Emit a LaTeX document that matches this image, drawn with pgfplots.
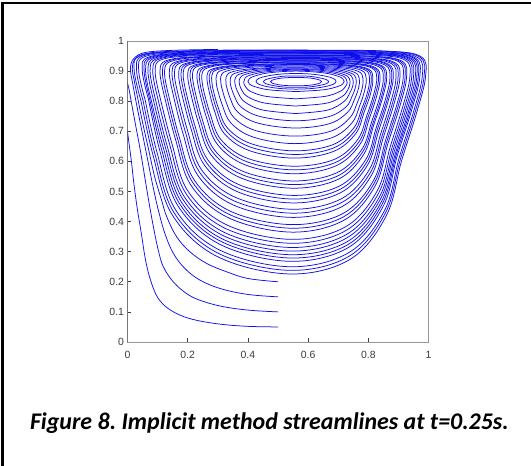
\documentclass[border=0pt]{standalone}
\usepackage{fontspec}
\usepackage{pgfplots}
\pgfplotsset{compat=1.18}
\setmainfont{Liberation Sans}
\newfontfamily\capfont{Carlito}
\definecolor{ticklab}{RGB}{60,60,60}
\definecolor{axdark}{RGB}{60,60,60}
\definecolor{axlight}{RGB}{150,150,150}
\definecolor{sblue}{RGB}{15,15,235}
\pgfplotsset{sl/.style={sblue, line width=0.75bp, smooth, tension=0.6, mark=none}}
\begin{document}
\begin{tikzpicture}
\useasboundingbox (0,0) rectangle (531bp,466bp);
\fill[white] (0,0) rectangle (531bp,466bp);
\draw[line width=2.2bp] (2.5bp,0) -- (2.5bp,463.2bp) -- (531bp,463.2bp);
\begin{axis}[
  at={(127.5bp,124bp)}, anchor=south west,
  scale only axis, width=301bp, height=301bp,
  xmin=0, xmax=1, ymin=0, ymax=1,
  xtick={0,0.2,0.4,0.6,0.8,1},
  ytick={0,0.1,0.2,0.3,0.4,0.5,0.6,0.7,0.8,0.9,1},
  tick pos=left,
  tick align=inside,
  major tick length=3.5bp,
  tick style={axdark, line width=0.6bp},
  axis line style={axlight, line width=0.8bp},
  ticklabel style={font=\fontsize{10.5}{12}\selectfont, text=ticklab},
  /pgf/number format/assume math mode=true,
  xticklabel style={yshift=-6bp},
]
% closed streamlines (outer to inner)
\addplot[sl, smooth] coordinates {(0.045,0.800) (0.022,0.905) (0.045,0.952) (0.200,0.966) (0.550,0.969) (0.850,0.967) (0.975,0.948) (0.990,0.880) (0.960,0.760) (0.910,0.600) (0.860,0.420) (0.740,0.275) (0.540,0.226) (0.300,0.283) (0.150,0.420) (0.085,0.620) (0.045,0.800)};
\addplot[sl, smooth] coordinates {(0.052,0.801) (0.030,0.904) (0.053,0.951) (0.205,0.965) (0.550,0.968) (0.846,0.966) (0.970,0.947) (0.985,0.880) (0.955,0.762) (0.906,0.605) (0.857,0.429) (0.738,0.286) (0.540,0.238) (0.303,0.294) (0.155,0.429) (0.091,0.625) (0.052,0.801)};
\addplot[sl, smooth] coordinates {(0.059,0.803) (0.037,0.904) (0.060,0.949) (0.211,0.963) (0.550,0.966) (0.842,0.964) (0.964,0.945) (0.979,0.880) (0.950,0.764) (0.902,0.610) (0.854,0.437) (0.737,0.298) (0.541,0.250) (0.307,0.305) (0.161,0.437) (0.098,0.630) (0.059,0.803)};
\addplot[sl, smooth] coordinates {(0.070,0.805) (0.049,0.903) (0.071,0.947) (0.219,0.961) (0.551,0.964) (0.836,0.962) (0.956,0.944) (0.971,0.880) (0.943,0.767) (0.896,0.618) (0.849,0.450) (0.734,0.314) (0.541,0.268) (0.312,0.322) (0.169,0.450) (0.107,0.637) (0.070,0.805)};
\addplot[sl, smooth] coordinates {(0.074,0.806) (0.055,0.903) (0.078,0.946) (0.224,0.960) (0.551,0.963) (0.833,0.961) (0.951,0.943) (0.966,0.880) (0.939,0.769) (0.893,0.623) (0.846,0.458) (0.733,0.324) (0.542,0.279) (0.315,0.332) (0.174,0.458) (0.113,0.641) (0.074,0.806)};
\addplot[sl, smooth] coordinates {(0.078,0.807) (0.060,0.902) (0.085,0.945) (0.228,0.958) (0.551,0.962) (0.829,0.959) (0.946,0.941) (0.961,0.880) (0.935,0.771) (0.890,0.627) (0.843,0.465) (0.731,0.334) (0.542,0.290) (0.318,0.341) (0.179,0.465) (0.119,0.645) (0.078,0.807)};
\addplot[sl, smooth] coordinates {(0.085,0.809) (0.068,0.902) (0.093,0.944) (0.234,0.957) (0.551,0.961) (0.825,0.958) (0.941,0.940) (0.956,0.880) (0.930,0.773) (0.886,0.632) (0.840,0.474) (0.729,0.346) (0.543,0.302) (0.321,0.352) (0.184,0.474) (0.125,0.650) (0.085,0.809)};
\addplot[sl, smooth] coordinates {(0.092,0.810) (0.075,0.901) (0.100,0.942) (0.239,0.956) (0.551,0.959) (0.821,0.956) (0.935,0.939) (0.950,0.879) (0.925,0.775) (0.882,0.637) (0.837,0.482) (0.727,0.357) (0.543,0.314) (0.324,0.363) (0.189,0.482) (0.131,0.654) (0.092,0.810)};
\addplot[sl, smooth] coordinates {(0.100,0.812) (0.084,0.900) (0.108,0.941) (0.245,0.954) (0.552,0.958) (0.817,0.955) (0.929,0.938) (0.944,0.879) (0.920,0.778) (0.878,0.643) (0.833,0.492) (0.725,0.370) (0.544,0.328) (0.328,0.376) (0.195,0.492) (0.139,0.660) (0.100,0.812)};
\addplot[sl, smooth] coordinates {(0.108,0.813) (0.092,0.899) (0.116,0.939) (0.251,0.952) (0.552,0.956) (0.812,0.953) (0.923,0.936) (0.938,0.879) (0.914,0.780) (0.873,0.649) (0.829,0.501) (0.723,0.382) (0.544,0.341) (0.332,0.388) (0.201,0.501) (0.146,0.665) (0.108,0.813)};
\addplot[sl, smooth] coordinates {(0.123,0.815) (0.108,0.898) (0.132,0.936) (0.262,0.949) (0.552,0.953) (0.805,0.950) (0.912,0.933) (0.927,0.879) (0.905,0.784) (0.865,0.659) (0.823,0.519) (0.720,0.405) (0.545,0.365) (0.339,0.411) (0.212,0.519) (0.159,0.675) (0.123,0.815)};
\addplot[sl, smooth] coordinates {(0.130,0.817) (0.116,0.898) (0.140,0.935) (0.267,0.948) (0.553,0.952) (0.801,0.949) (0.907,0.932) (0.922,0.879) (0.900,0.787) (0.861,0.664) (0.820,0.528) (0.718,0.416) (0.545,0.378) (0.342,0.422) (0.218,0.528) (0.165,0.680) (0.130,0.817)};
\addplot[sl, smooth] coordinates {(0.137,0.818) (0.123,0.897) (0.147,0.933) (0.272,0.947) (0.553,0.950) (0.797,0.947) (0.901,0.931) (0.916,0.879) (0.895,0.789) (0.857,0.669) (0.817,0.536) (0.716,0.427) (0.545,0.390) (0.345,0.433) (0.223,0.536) (0.171,0.684) (0.137,0.818)};
\addplot[sl, smooth] coordinates {(0.152,0.821) (0.139,0.896) (0.162,0.931) (0.283,0.944) (0.553,0.948) (0.789,0.944) (0.889,0.928) (0.905,0.879) (0.886,0.793) (0.850,0.680) (0.810,0.553) (0.713,0.450) (0.546,0.414) (0.352,0.455) (0.234,0.553) (0.184,0.694) (0.152,0.821)};
\addplot[sl, smooth] coordinates {(0.160,0.822) (0.148,0.895) (0.171,0.930) (0.289,0.942) (0.554,0.947) (0.785,0.943) (0.883,0.927) (0.899,0.879) (0.881,0.796) (0.846,0.686) (0.807,0.563) (0.711,0.463) (0.547,0.428) (0.356,0.468) (0.240,0.563) (0.192,0.699) (0.160,0.822)};
\addplot[sl, smooth] coordinates {(0.168,0.823) (0.156,0.894) (0.179,0.928) (0.295,0.940) (0.554,0.945) (0.780,0.941) (0.877,0.925) (0.892,0.878) (0.875,0.798) (0.841,0.691) (0.803,0.572) (0.709,0.475) (0.547,0.441) (0.360,0.480) (0.246,0.572) (0.199,0.704) (0.168,0.823)};
\addplot[sl, smooth] coordinates {(0.180,0.826) (0.170,0.893) (0.192,0.925) (0.305,0.938) (0.554,0.942) (0.773,0.939) (0.867,0.923) (0.883,0.878) (0.866,0.801) (0.834,0.700) (0.797,0.587) (0.706,0.495) (0.548,0.462) (0.366,0.499) (0.256,0.587) (0.210,0.712) (0.180,0.826)};
\addplot[sl, smooth] coordinates {(0.188,0.827) (0.178,0.893) (0.200,0.924) (0.310,0.937) (0.554,0.941) (0.769,0.938) (0.862,0.922) (0.878,0.878) (0.862,0.804) (0.830,0.706) (0.794,0.596) (0.704,0.506) (0.549,0.475) (0.369,0.511) (0.262,0.596) (0.217,0.717) (0.188,0.827)};
\addplot[sl, smooth] coordinates {(0.195,0.828) (0.185,0.892) (0.207,0.922) (0.315,0.935) (0.554,0.939) (0.765,0.936) (0.856,0.920) (0.872,0.878) (0.857,0.806) (0.826,0.711) (0.791,0.605) (0.702,0.517) (0.549,0.487) (0.372,0.522) (0.267,0.605) (0.223,0.722) (0.195,0.828)};
\addplot[sl, smooth] coordinates {(0.209,0.831) (0.200,0.891) (0.222,0.920) (0.326,0.932) (0.555,0.937) (0.757,0.933) (0.845,0.918) (0.861,0.878) (0.847,0.810) (0.818,0.721) (0.784,0.622) (0.699,0.540) (0.549,0.511) (0.379,0.544) (0.277,0.622) (0.235,0.731) (0.209,0.831)};
\addplot[sl, smooth] coordinates {(0.217,0.833) (0.208,0.891) (0.230,0.919) (0.332,0.931) (0.555,0.936) (0.753,0.932) (0.840,0.917) (0.856,0.878) (0.843,0.812) (0.815,0.726) (0.781,0.631) (0.697,0.551) (0.550,0.523) (0.383,0.555) (0.283,0.631) (0.242,0.736) (0.217,0.833)};
\addplot[sl, smooth] coordinates {(0.224,0.834) (0.216,0.890) (0.237,0.917) (0.337,0.929) (0.555,0.934) (0.749,0.930) (0.834,0.915) (0.850,0.878) (0.838,0.814) (0.811,0.731) (0.778,0.639) (0.695,0.562) (0.550,0.535) (0.386,0.566) (0.288,0.639) (0.248,0.741) (0.224,0.834)};
\addplot[sl, smooth] coordinates {(0.238,0.836) (0.231,0.889) (0.252,0.914) (0.347,0.926) (0.556,0.931) (0.741,0.927) (0.823,0.912) (0.839,0.877) (0.828,0.818) (0.803,0.741) (0.772,0.656) (0.692,0.585) (0.551,0.559) (0.392,0.588) (0.299,0.656) (0.261,0.750) (0.238,0.836)};
\addplot[sl, smooth] coordinates {(0.245,0.838) (0.239,0.888) (0.260,0.913) (0.353,0.925) (0.556,0.930) (0.737,0.926) (0.818,0.911) (0.834,0.877) (0.823,0.821) (0.799,0.747) (0.769,0.665) (0.690,0.596) (0.552,0.572) (0.396,0.599) (0.305,0.665) (0.268,0.755) (0.245,0.838)};
\addplot[sl, smooth] coordinates {(0.252,0.839) (0.247,0.887) (0.267,0.911) (0.358,0.924) (0.556,0.928) (0.733,0.924) (0.812,0.910) (0.828,0.877) (0.818,0.823) (0.795,0.752) (0.765,0.673) (0.688,0.607) (0.552,0.584) (0.399,0.610) (0.310,0.673) (0.274,0.760) (0.252,0.839)};
\addplot[sl, smooth] coordinates {(0.269,0.842) (0.264,0.886) (0.284,0.908) (0.370,0.920) (0.556,0.925) (0.724,0.921) (0.800,0.907) (0.815,0.877) (0.808,0.827) (0.786,0.763) (0.758,0.692) (0.684,0.633) (0.553,0.611) (0.407,0.635) (0.322,0.692) (0.288,0.771) (0.269,0.842)};
\addplot[sl, smooth] coordinates {(0.276,0.844) (0.272,0.886) (0.292,0.907) (0.376,0.919) (0.557,0.924) (0.720,0.920) (0.795,0.906) (0.810,0.877) (0.803,0.830) (0.782,0.769) (0.755,0.701) (0.683,0.644) (0.554,0.623) (0.410,0.647) (0.328,0.701) (0.295,0.776) (0.276,0.844)};
\addplot[sl, smooth] coordinates {(0.283,0.845) (0.280,0.885) (0.299,0.905) (0.381,0.917) (0.557,0.922) (0.716,0.918) (0.789,0.904) (0.804,0.877) (0.798,0.832) (0.778,0.774) (0.751,0.710) (0.681,0.655) (0.554,0.635) (0.413,0.658) (0.333,0.710) (0.301,0.780) (0.283,0.845)};
\addplot[sl, smooth] coordinates {(0.297,0.847) (0.295,0.884) (0.314,0.903) (0.392,0.915) (0.557,0.920) (0.708,0.915) (0.778,0.902) (0.793,0.876) (0.788,0.836) (0.771,0.784) (0.745,0.727) (0.677,0.678) (0.554,0.659) (0.420,0.680) (0.344,0.727) (0.314,0.790) (0.297,0.847)};
\addplot[sl, smooth] coordinates {(0.312,0.850) (0.310,0.882) (0.329,0.900) (0.402,0.912) (0.558,0.917) (0.701,0.912) (0.767,0.899) (0.782,0.876) (0.779,0.840) (0.763,0.794) (0.738,0.744) (0.674,0.700) (0.555,0.684) (0.427,0.702) (0.355,0.744) (0.327,0.799) (0.312,0.850)};
\addplot[sl, smooth] coordinates {(0.328,0.853) (0.328,0.881) (0.346,0.897) (0.414,0.908) (0.558,0.914) (0.692,0.909) (0.754,0.896) (0.770,0.876) (0.768,0.845) (0.754,0.806) (0.731,0.763) (0.670,0.725) (0.556,0.711) (0.434,0.727) (0.367,0.763) (0.341,0.810) (0.328,0.853)};
\addplot[sl, smooth] coordinates {(0.342,0.855) (0.343,0.880) (0.361,0.894) (0.425,0.906) (0.558,0.911) (0.684,0.906) (0.743,0.893) (0.759,0.876) (0.758,0.849) (0.746,0.816) (0.725,0.780) (0.666,0.748) (0.557,0.735) (0.441,0.749) (0.378,0.780) (0.354,0.819) (0.342,0.855)};
\addplot[sl, smooth] coordinates {(0.558,0.759) (0.448,0.771) (0.389,0.798) (0.367,0.829) (0.357,0.858) (0.359,0.879) (0.376,0.891) (0.436,0.903) (0.559,0.908) (0.676,0.903) (0.732,0.891) (0.748,0.876) (0.749,0.853) (0.738,0.826) (0.718,0.798) (0.663,0.770) (0.558,0.759)};
\addplot[sl, smooth] coordinates {(0.558,0.784) (0.455,0.794) (0.399,0.815) (0.379,0.838) (0.371,0.861) (0.374,0.877) (0.391,0.889) (0.447,0.900) (0.559,0.906) (0.668,0.900) (0.721,0.888) (0.737,0.875) (0.739,0.858) (0.731,0.836) (0.712,0.815) (0.659,0.793) (0.558,0.784)};
\addplot[sl, smooth] coordinates {(0.559,0.808) (0.461,0.816) (0.410,0.832) (0.392,0.848) (0.386,0.863) (0.390,0.876) (0.406,0.886) (0.457,0.897) (0.560,0.903) (0.660,0.897) (0.710,0.886) (0.726,0.875) (0.730,0.862) (0.723,0.847) (0.705,0.832) (0.656,0.816) (0.559,0.808)};
\addplot[sl, smooth] coordinates {(0.560,0.832) (0.468,0.838) (0.421,0.849) (0.405,0.857) (0.400,0.866) (0.405,0.875) (0.421,0.883) (0.468,0.894) (0.560,0.900) (0.652,0.894) (0.699,0.883) (0.715,0.875) (0.720,0.866) (0.715,0.857) (0.699,0.849) (0.652,0.838) (0.560,0.832)};
% inner ellipses
\addplot[sl, smooth] coordinates {(0.560,0.840) (0.509,0.842) (0.466,0.848) (0.437,0.856) (0.427,0.866) (0.437,0.876) (0.466,0.884) (0.509,0.890) (0.560,0.892) (0.611,0.890) (0.654,0.884) (0.683,0.876) (0.693,0.866) (0.683,0.856) (0.654,0.848) (0.611,0.842) (0.560,0.840)};
\addplot[sl, smooth] coordinates {(0.560,0.846) (0.519,0.847) (0.484,0.852) (0.460,0.858) (0.452,0.865) (0.460,0.872) (0.484,0.878) (0.519,0.883) (0.560,0.884) (0.601,0.883) (0.636,0.878) (0.660,0.872) (0.668,0.865) (0.660,0.858) (0.636,0.852) (0.601,0.847) (0.560,0.846)};
\addplot[sl, smooth] coordinates {(0.560,0.851) (0.527,0.852) (0.500,0.855) (0.481,0.860) (0.475,0.865) (0.481,0.870) (0.500,0.875) (0.527,0.878) (0.560,0.879) (0.593,0.878) (0.620,0.875) (0.639,0.870) (0.645,0.865) (0.639,0.860) (0.620,0.855) (0.593,0.852) (0.560,0.851)};
% open streamlines from the lower seeds
\addplot[sl, smooth] coordinates {(0.500,0.050) (0.400,0.052) (0.310,0.059) (0.230,0.072) (0.175,0.089) (0.130,0.115) (0.102,0.145) (0.086,0.178) (0.070,0.228) (0.058,0.283) (0.046,0.360) (0.033,0.440) (0.022,0.520) (0.013,0.600) (0.005,0.660) (0.000,0.700)};
\addplot[sl, smooth] coordinates {(0.500,0.100) (0.400,0.106) (0.310,0.119) (0.240,0.139) (0.196,0.161) (0.152,0.200) (0.119,0.250) (0.102,0.306) (0.086,0.383) (0.072,0.460) (0.057,0.550) (0.042,0.640) (0.027,0.720) (0.014,0.790) (0.005,0.840) (0.000,0.860)};
\addplot[sl, smooth] coordinates {(0.500,0.150) (0.400,0.158) (0.310,0.177) (0.240,0.206) (0.190,0.245) (0.152,0.295) (0.124,0.361) (0.102,0.440) (0.084,0.520) (0.066,0.610) (0.048,0.700) (0.030,0.790) (0.017,0.860) (0.010,0.900) (0.012,0.925) (0.025,0.946) (0.060,0.962) (0.150,0.969) (0.300,0.972)};
\addplot[sl, smooth] coordinates {(0.500,0.200) (0.400,0.211) (0.330,0.233) (0.263,0.261) (0.207,0.300) (0.163,0.350) (0.130,0.417) (0.113,0.472) (0.090,0.550) (0.070,0.640) (0.050,0.730) (0.034,0.810) (0.022,0.870) (0.016,0.910) (0.025,0.940) (0.060,0.958) (0.150,0.966) (0.350,0.970) (0.600,0.970)};
\draw[axdark, line width=0.8bp] (rel axis cs:0,1) -- (rel axis cs:0,0) -- (rel axis cs:1,0);
\end{axis}
\node[anchor=base west, inner sep=0, font=\capfont\bfseries\itshape\fontsize{24}{28}\selectfont] at (29.8bp,36.2bp) {Figure 8.\ Implicit method streamlines at t=0.25s.};
\end{tikzpicture}
\end{document}
